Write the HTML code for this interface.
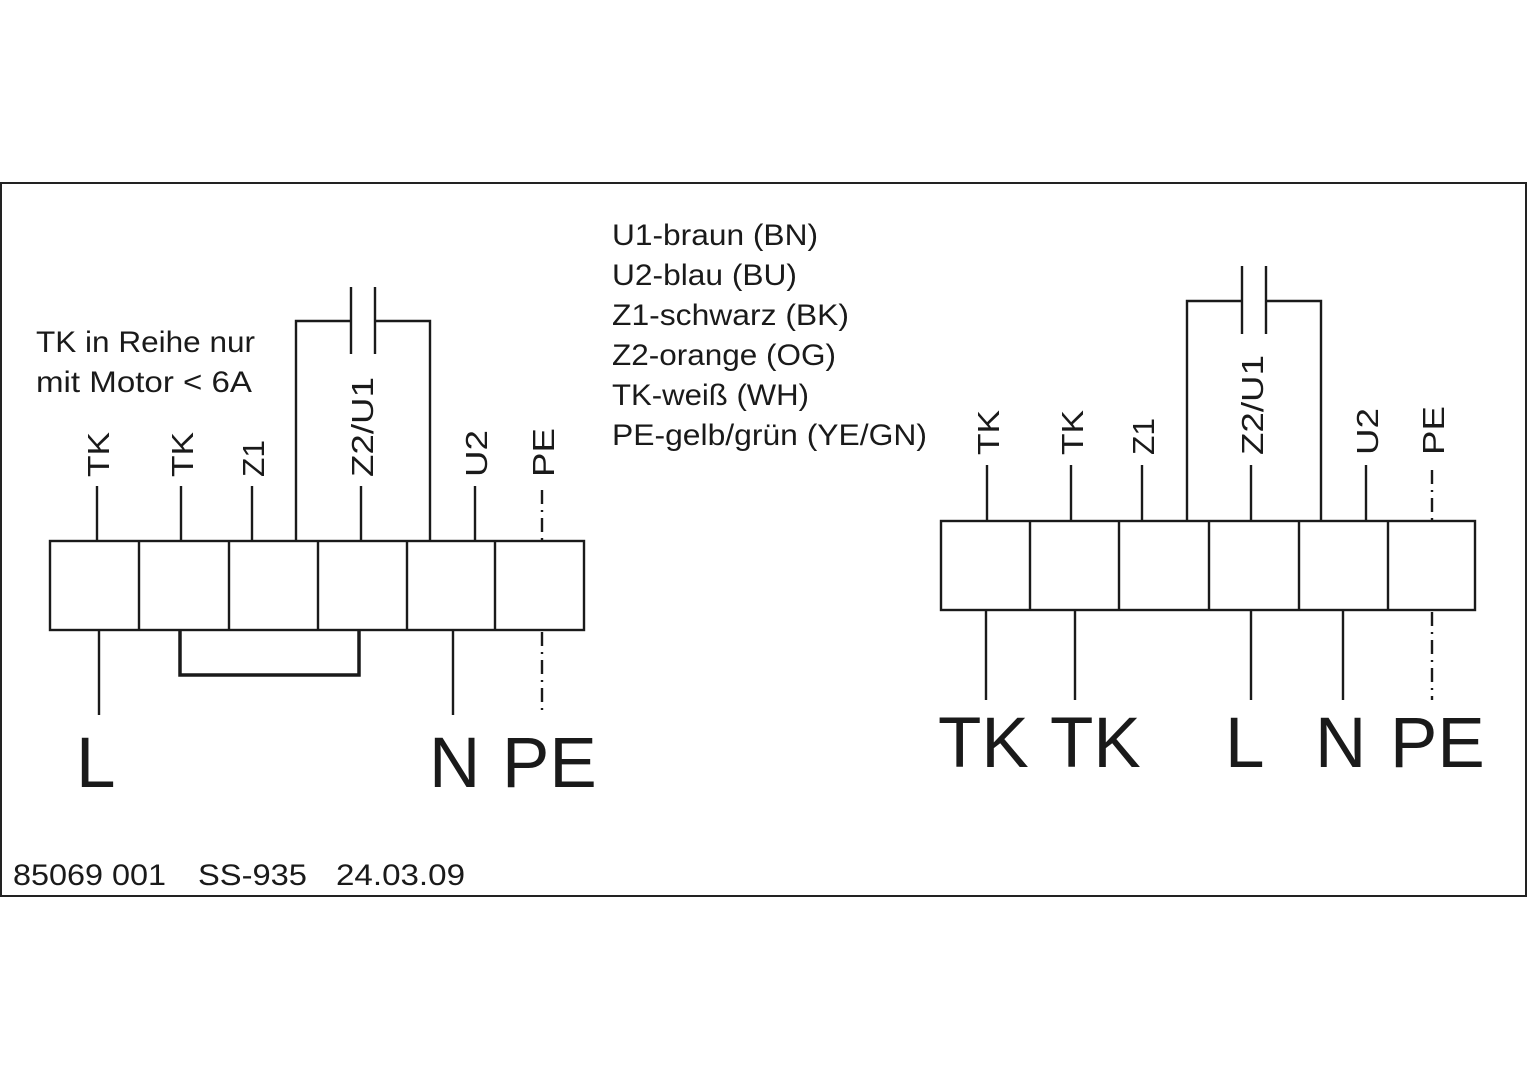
<!DOCTYPE html>
<html><head><meta charset="utf-8"><style>
html,body{margin:0;padding:0;background:#fff;}
svg{display:block;}
text{font-family:"Liberation Sans",sans-serif;fill:#1a1a1a;}
</style></head><body>
<svg width="1528" height="1080" viewBox="0 0 1528 1080" xmlns="http://www.w3.org/2000/svg">
<rect x="1" y="183" width="1525" height="713" fill="none" stroke="#222" stroke-width="2"/>
<g stroke="#1a1a1a" stroke-width="2.4" fill="none">
<rect x="50" y="541" width="534" height="89"/>
<line x1="139" y1="541" x2="139" y2="630"/><line x1="229" y1="541" x2="229" y2="630"/>
<line x1="318" y1="541" x2="318" y2="630"/><line x1="407" y1="541" x2="407" y2="630"/>
<line x1="495" y1="541" x2="495" y2="630"/>
<line x1="97" y1="486" x2="97" y2="541"/><line x1="181" y1="486" x2="181" y2="541"/>
<line x1="252" y1="486" x2="252" y2="541"/><line x1="361" y1="486" x2="361" y2="541"/>
<line x1="475" y1="486" x2="475" y2="541"/>
<polyline points="296,541 296,321 351,321"/><polyline points="375,321 430,321 430,541"/>
<line x1="351" y1="287" x2="351" y2="354"/><line x1="375" y1="287" x2="375" y2="354"/>
<line x1="542" y1="490" x2="542" y2="541" stroke-dasharray="14,6,2,6"/>
<line x1="99" y1="630" x2="99" y2="715"/><line x1="453" y1="630" x2="453" y2="715"/>
<line x1="542" y1="632" x2="542" y2="715" stroke-dasharray="14,6,2,6"/>
<polyline points="180,630 180,675 359,675 359,630" stroke-width="3.5"/>
<rect x="941" y="521" width="534" height="89"/>
<line x1="1030" y1="521" x2="1030" y2="610"/><line x1="1119" y1="521" x2="1119" y2="610"/>
<line x1="1209" y1="521" x2="1209" y2="610"/><line x1="1299" y1="521" x2="1299" y2="610"/>
<line x1="1388" y1="521" x2="1388" y2="610"/>
<line x1="987" y1="465" x2="987" y2="521"/><line x1="1071" y1="465" x2="1071" y2="521"/>
<line x1="1142" y1="465" x2="1142" y2="521"/><line x1="1251" y1="465" x2="1251" y2="521"/>
<line x1="1366" y1="465" x2="1366" y2="521"/>
<polyline points="1187,521 1187,301 1242,301"/><polyline points="1266,301 1321,301 1321,521"/>
<line x1="1242" y1="266" x2="1242" y2="334"/><line x1="1266" y1="266" x2="1266" y2="334"/>
<line x1="1432" y1="470" x2="1432" y2="521" stroke-dasharray="14,6,2,6"/>
<line x1="986" y1="610" x2="986" y2="700"/><line x1="1075" y1="610" x2="1075" y2="700"/>
<line x1="1251" y1="610" x2="1251" y2="700"/><line x1="1343" y1="610" x2="1343" y2="700"/>
<line x1="1432" y1="612" x2="1432" y2="700" stroke-dasharray="14,6,2,6"/>
</g>
<g font-size="31">
<text transform="translate(109,477) rotate(-90)" textLength="45" lengthAdjust="spacingAndGlyphs">TK</text>
<text transform="translate(193,477) rotate(-90)" textLength="45" lengthAdjust="spacingAndGlyphs">TK</text>
<text transform="translate(264,477) rotate(-90)" textLength="37" lengthAdjust="spacingAndGlyphs">Z1</text>
<text transform="translate(373,477) rotate(-90)" textLength="100" lengthAdjust="spacingAndGlyphs">Z2/U1</text>
<text transform="translate(487,477) rotate(-90)" textLength="47" lengthAdjust="spacingAndGlyphs">U2</text>
<text transform="translate(554,477) rotate(-90)" textLength="49" lengthAdjust="spacingAndGlyphs">PE</text>
<text transform="translate(999,455) rotate(-90)" textLength="45" lengthAdjust="spacingAndGlyphs">TK</text>
<text transform="translate(1083,455) rotate(-90)" textLength="45" lengthAdjust="spacingAndGlyphs">TK</text>
<text transform="translate(1154,455) rotate(-90)" textLength="37" lengthAdjust="spacingAndGlyphs">Z1</text>
<text transform="translate(1263,455) rotate(-90)" textLength="100" lengthAdjust="spacingAndGlyphs">Z2/U1</text>
<text transform="translate(1378,455) rotate(-90)" textLength="47" lengthAdjust="spacingAndGlyphs">U2</text>
<text transform="translate(1444,455) rotate(-90)" textLength="49" lengthAdjust="spacingAndGlyphs">PE</text>
</g>
<g font-size="30">
<text x="36" y="352" textLength="219" lengthAdjust="spacingAndGlyphs">TK in Reihe nur</text>
<text x="36" y="392" textLength="216" lengthAdjust="spacingAndGlyphs">mit Motor &lt; 6A</text>
<text x="612" y="245" textLength="206" lengthAdjust="spacingAndGlyphs">U1-braun (BN)</text>
<text x="612" y="285" textLength="185" lengthAdjust="spacingAndGlyphs">U2-blau (BU)</text>
<text x="612" y="325" textLength="237" lengthAdjust="spacingAndGlyphs">Z1-schwarz (BK)</text>
<text x="612" y="365" textLength="224" lengthAdjust="spacingAndGlyphs">Z2-orange (OG)</text>
<text x="612" y="405" textLength="197" lengthAdjust="spacingAndGlyphs">TK-weiß (WH)</text>
<text x="612" y="445" textLength="315" lengthAdjust="spacingAndGlyphs">PE-gelb/grün (YE/GN)</text>
<text x="13" y="885" textLength="153" lengthAdjust="spacingAndGlyphs">85069 001</text>
<text x="198" y="885" textLength="109" lengthAdjust="spacingAndGlyphs">SS-935</text>
<text x="336" y="885" textLength="129" lengthAdjust="spacingAndGlyphs">24.03.09</text>
</g>
<g font-size="71">
<text x="76" y="787">L</text>
<text x="429" y="787">N</text>
<text x="502" y="787">PE</text>
<text x="938" y="767">TK</text>
<text x="1050" y="767">TK</text>
<text x="1225" y="767">L</text>
<text x="1315" y="767">N</text>
<text x="1390" y="767">PE</text>
</g>
</svg>
</body></html>
